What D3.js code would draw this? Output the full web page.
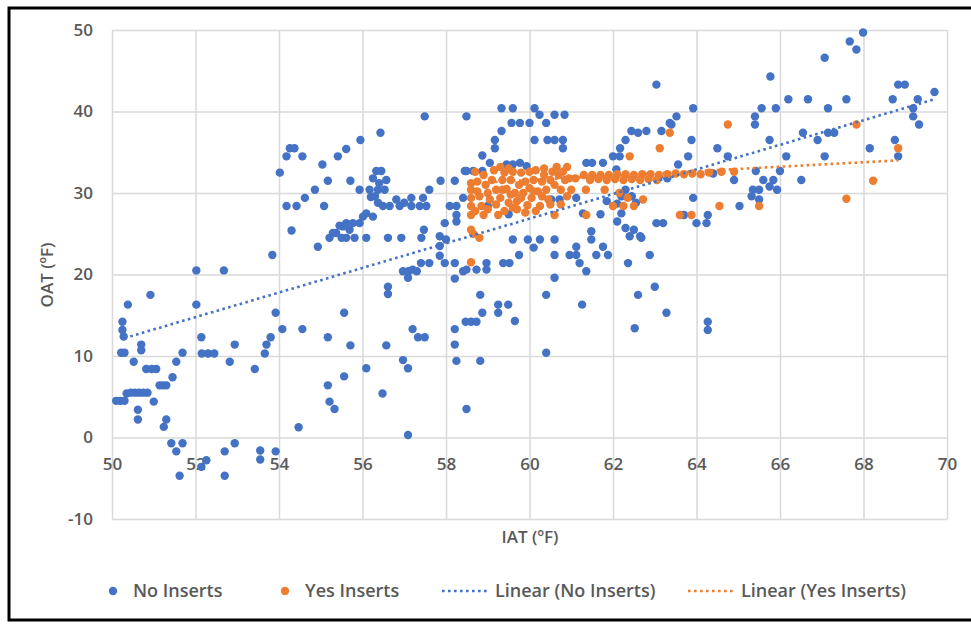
<!DOCTYPE html>
<html>
<head>
<meta charset="utf-8">
<script src="https://cdn.jsdelivr.net/npm/d3@7"></script>
<style>
  html, body { margin: 0; padding: 0; background: #fff; }
  svg text { font-family: 'Open Sans', 'Noto Sans', sans-serif; fill: #595959; }
</style>
</head>
<body>
<svg id="chart" width="971" height="624"></svg>
<script>
const xTicks = [50, 52, 54, 56, 58, 60, 62, 64, 66, 68, 70]
const yTicks = [-10, 0, 10, 20, 30, 40, 50]

// [IAT, OAT] pairs
const noInserts = [
  [50.1,4.5],[50.2,4.5],[50.3,4.5],[50.25,14.2],[50.25,13.2],[50.28,12.4],[50.38,16.3],[50.22,10.4],[50.3,10.4],
  [50.52,9.3],[50.35,5.4],[50.45,5.5],[50.55,5.5],[50.65,5.5],[50.75,5.5],[50.85,5.5],[50.62,3.4],[50.62,2.2],
  [50.7,11.4],[50.7,10.7],[50.82,8.4],[50.95,8.4],[51.06,8.4],[50.92,17.5],[51.0,4.4],[51.14,6.4],[51.22,6.4],
  [51.3,6.4],[51.45,7.4],[51.54,9.3],[51.69,10.4],[51.3,2.2],[51.24,1.3],[51.42,-0.7],[51.54,-1.7],[51.69,-0.7],
  [51.62,-4.7],
  [52.02,20.5],[52.02,16.3],[52.14,12.3],[52.15,10.3],[52.3,10.3],[52.45,10.3],[52.68,20.5],[52.82,9.3],[52.94,11.4],
  [52.26,-2.8],[52.14,-3.6],[52.7,-1.7],[52.94,-0.7],[52.7,-4.7],[53.42,8.4],[53.55,-1.6],[53.55,-2.7],[53.92,-1.7],
  [53.66,10.3],[53.7,11.4],[53.8,12.3],[53.92,15.3],[53.84,22.4],[54.08,13.3],
  [54.56,13.3],[54.47,1.25],[55.17,12.3],[55.17,6.4],[55.21,4.4],[55.33,3.5],[54.93,23.4],[55.56,15.3],[55.71,11.3],
  [55.56,7.5],[56.09,8.5],[56.48,5.4],
  [54.26,35.5],[54.37,35.5],[54.18,34.5],[54.56,34.5],[54.02,32.5],[55.04,33.5],[55.41,34.5],[55.61,35.4],[55.95,36.5],
  [56.43,37.4],[55.17,31.5],[55.71,31.5],[54.86,30.4],[54.62,29.4],[54.18,28.4],[54.42,28.4],[55.08,28.4],[54.3,25.4],
  [55.21,24.5],[55.37,25.1],[55.5,24.5],[55.53,25.9],[55.61,26.3],[55.69,25.5],[55.61,24.5],[55.77,26.3],[55.81,24.5],
  [55.93,26.3],[56.01,27.1],[56.09,24.5],[55.45,26.0],[55.29,25.1],
  [55.93,30.4],[56.17,30.4],[56.37,30.4],[56.53,30.4],[56.33,32.7],[56.45,32.7],[56.25,31.8],[56.57,31.6],[56.2,29.5],
  [56.37,28.8],[56.49,28.4],[56.65,28.4],[56.81,29.2],[56.89,28.4],[56.25,27.1],[56.09,27.5],[56.61,24.5],[56.93,24.5],
  [56.4,31.2],[56.3,29.6],
  [56.57,11.3],[56.61,18.5],[56.61,17.6],[57.2,13.3],[57.33,12.3],[57.49,12.3],[56.97,9.5],[57.09,8.5],[57.09,0.3],
  [56.97,20.4],[57.1,20.4],[57.2,20.6],[57.3,20.4],[57.09,19.6],[57.4,21.4],[57.6,21.4],[57.85,23.5],[57.85,22.3],
  [57.97,21.4],[57.17,29.4],[57.17,28.4],[57.37,28.4],[57.53,28.4],[57.6,30.4],[57.45,29.4],[57.87,31.5],[57.47,25.5],
  [57.41,24.5],[57.85,24.7],[57.49,39.4],[57.0,28.8],
  [58.21,31.5],[58.09,28.4],[58.25,28.4],[58.25,27.3],[58.25,26.5],[57.97,26.3],[58.0,24.3],[58.21,21.4],[58.21,19.5],
  [58.41,20.4],[58.49,39.4],[58.49,32.7],[58.41,29.4],[58.21,13.3],[58.21,11.4],[58.25,9.4],[58.47,14.2],[58.6,14.2],
  [58.73,14.2],[58.49,3.5],[58.82,9.4],[58.87,15.3],[58.82,17.5],[59.25,16.3],[59.25,15.3],[59.49,16.3],[59.65,14.3],
  [58.49,20.6],[58.73,20.6],[58.97,20.6],[58.97,21.4],[59.37,21.4],[59.52,21.4],[59.75,22.4],[59.6,24.3],[59.96,24.3],
  [60.1,23.3],[60.25,24.3],
  [59.33,40.4],[59.6,40.4],[59.57,38.6],[59.77,38.6],[60.0,38.6],[59.33,37.6],[59.17,36.5],[59.17,35.5],[58.87,34.6],
  [59.05,33.7],[58.45,32.7],[58.65,32.7],[58.87,32.7],[59.77,33.7],[59.93,33.3],[59.45,33.5],[59.6,33.5],
  [59.0,28.4],[59.5,27.4],[60.52,29.2],[60.72,29.2],[61.12,29.4],[61.28,27.5],
  [60.12,40.4],[60.24,39.6],[60.6,39.6],[60.84,39.6],[60.4,38.6],[60.12,36.5],[60.43,36.5],[60.6,36.5],[60.8,36.5],
  [60.8,35.5],[60.4,17.5],[60.6,19.6],[60.4,10.4],[61.26,16.3],[60.6,24.3],[60.6,22.4],[60.96,22.4],[61.12,22.4],
  [61.2,21.4],[61.36,20.4],[61.12,23.4],[61.48,25.3],[61.48,24.3],[61.6,22.4],[61.76,23.4],[61.88,22.4],[61.36,33.7],
  [61.5,33.7],[61.76,33.7],[61.7,27.4],[61.85,29.0],
  [62.17,35.5],[62.3,36.5],[62.44,37.6],[62.8,37.6],[63.16,37.6],[63.36,38.6],[62.6,37.4],[62.08,32.9],[62.0,34.5],
  [62.16,34.5],[62.36,21.4],[62.88,22.4],[62.52,13.4],[63.28,15.3],[62.6,17.5],[63.0,18.5],[62.4,24.7],[62.65,24.7],
  [62.68,24.5],[63.04,26.3],[63.2,26.3],[62.1,28.7],[62.2,29.6],[62.3,30.4],[62.45,29.6],[62.55,28.8],[62.1,26.5],
  [62.3,25.7],[62.5,25.5],[62.2,27.5],[63.04,43.3],[63.52,39.4],[63.4,38.4],[63.92,40.4],[63.88,36.5],[63.8,34.5],
  [63.56,33.5],[63.92,29.4],[63.7,27.3],[64.0,26.3],[64.24,26.3],[64.27,27.3],[64.27,14.2],[64.27,13.2],[63.1,32.0],
  [63.3,31.8],
  [64.5,35.5],[64.75,34.5],[65.03,28.4],[65.4,39.4],[65.4,38.4],[65.56,40.4],[65.9,40.4],[65.75,36.5],[66.15,34.5],
  [65.42,32.7],[65.6,31.6],[65.84,31.6],[66.0,32.7],[65.35,30.4],[65.5,30.4],[65.75,30.8],[65.93,30.4],[65.5,29.2],
  [65.32,29.6],[65.77,44.3],[64.4,32.4],[64.9,31.6],
  [66.2,41.5],[66.67,41.5],[67.15,40.4],[66.55,37.4],[66.9,36.5],[67.15,37.4],[67.3,37.4],[67.07,34.5],[66.51,31.6],
  [67.99,49.7],[67.67,48.6],[67.83,47.6],[67.07,46.6],[68.83,43.3],[68.99,43.3],[69.7,42.4],[68.7,41.5],[69.3,41.5],
  [69.19,40.4],[69.19,39.4],[69.33,38.4],[68.75,36.5],[68.83,34.5],[68.15,35.5],[67.59,41.5]
]

const yesInserts = [
  [58.6,31.2],[58.6,30.4],[58.6,29.4],[58.6,28.4],[58.6,27.3],[58.6,25.5],[58.65,25.0],[58.8,24.5],[58.6,21.5],
  [58.75,31.4],[58.75,30.2],[58.8,29.6],[58.85,28.4],[58.9,27.3],[58.95,31.0],[59.0,30.0],[59.05,29.2],[59.1,31.6],
  [59.2,30.4],[59.25,27.3],[59.3,29.4],[59.35,31.6],[59.4,32.5],[59.45,30.5],[59.5,28.8],[59.55,31.6],[59.6,32.6],
  [59.65,30.0],[59.7,29.0],[59.7,28.0],[59.75,31.0],[59.8,32.5],[59.85,30.0],[59.9,31.4],[59.95,28.5],[60.0,32.6],
  [60.0,30.6],[60.05,29.4],[60.1,31.6],[60.15,32.8],[60.2,30.2],[60.25,28.4],[60.3,31.4],[60.35,32.2],[60.4,30.4],
  [60.45,29.2],[60.5,31.6],[60.55,32.6],[60.6,31.0],[60.65,33.2],[60.6,27.3],[60.7,32.2],[60.8,32.6],[60.85,31.6],
  [60.9,33.2],[59.3,33.2],[59.5,33.0],
  [58.7,32.6],[58.7,27.8],[58.9,32.2],[59.0,28.0],[59.15,32.8],[59.2,28.6],[59.35,30.4],[59.4,27.8],[59.55,29.8],
  [59.6,28.2],[59.8,29.4],[59.9,27.6],[60.1,30.2],[60.15,27.8],[60.3,29.6],[60.35,33.0],[60.5,28.6],[60.75,30.4],
  [60.75,28.6],[60.9,29.6],[60.95,31.8],[61.1,31.8],
  [61.0,30.4],[61.35,30.4],[61.36,27.3],[61.3,32.2],[61.5,32.2],[61.7,32.2],[61.9,32.2],[62.1,32.3],[62.3,32.3],
  [62.5,32.2],[62.7,32.3],[62.9,32.3],[63.1,32.2],[63.3,32.3],[63.5,32.4],[63.7,32.3],[63.9,32.4],[64.1,32.3],
  [64.3,32.5],[64.6,32.6],[64.9,32.6],
  [61.45,31.6],[61.65,31.7],[61.85,31.6],[62.05,31.7],[62.25,31.6],[62.45,31.7],[62.65,31.6],[62.85,31.7],[63.05,31.6],
  [61.8,30.4],[62.15,30.0],[62.35,29.4],
  [62.0,28.4],[62.25,28.4],[62.5,28.4],[62.72,29.2],[62.4,34.5],[63.12,35.5],[63.36,37.4],[63.6,27.3],[63.88,27.3],
  [64.75,38.4],[64.55,28.4],[65.5,28.4],[67.83,38.4],[68.83,35.5],[68.23,31.5],[67.59,29.3]
]

// trendline end points as drawn
const noTrend = [[50.3, 12.2], [69.7, 41.5]]
const yesTrend = [[58.6, 31.2], [68.83, 34.0]]

const legendItems = [
  { label: 'No Inserts', color: '#4472C4', kind: 'dot', x: 113 },
  { label: 'Yes Inserts', color: '#ED7D31', kind: 'dot', x: 285 },
  { label: 'Linear (No Inserts)', color: '#4472C4', kind: 'line', x: 442 },
  { label: 'Linear (Yes Inserts)', color: '#ED7D31', kind: 'line', x: 688 },
]

const svg = d3.select('#chart')

const x = d3.scaleLinear().domain([50, 70]).range([112, 947])
const y = d3.scaleLinear().domain([-10, 50]).range([519, 30])

// frame
svg.append('rect')
  .attr('x', 9).attr('y', 8)
  .attr('width', 990).attr('height', 612)
  .attr('fill', 'none').attr('stroke', '#000').attr('stroke-width', 3)

// grid
svg.append('g')
  .attr('class', 'grid')
  .attr('transform', `translate(0,${y(-10)})`)
  .call(d3.axisBottom(x).tickValues(xTicks).tickSize(-(y(-10) - y(50))).tickFormat(''))
  .call((g) => g.select('.domain').remove())
svg.append('g')
  .attr('class', 'grid')
  .attr('transform', `translate(${x(50)},0)`)
  .call(d3.axisLeft(y).tickValues(yTicks).tickSize(-(x(70) - x(50))).tickFormat(''))
  .call((g) => g.select('.domain').remove())
svg.selectAll('.grid line').attr('stroke', '#d9d9d9').attr('stroke-width', 1.5)

// tick labels
svg.append('g')
  .attr('transform', `translate(0,${y(0)})`)
  .call(d3.axisBottom(x).tickValues(xTicks).tickSize(0).tickPadding(20).tickFormat((d) => String(d)))
  .call((g) => g.select('.domain').remove())
  .selectAll('text')
  .style('font-size', '17px').style('font-weight', 600)
svg.append('g')
  .attr('transform', `translate(${x(50) - 19},0)`)
  .call(d3.axisLeft(y).tickValues(yTicks).tickSize(0).tickPadding(0).tickFormat((d) => String(d)))
  .call((g) => g.select('.domain').remove())
  .selectAll('text')
  .style('font-size', '17px').style('font-weight', 600)
svg.selectAll('.tick text').attr('fill', '#595959')

// points
svg.append('g')
  .selectAll('circle')
  .data(noInserts)
  .join('circle')
  .attr('cx', (d) => x(d[0]))
  .attr('cy', (d) => y(d[1]))
  .attr('r', 4.2)
  .attr('fill', '#4472C4')

svg.append('g')
  .selectAll('circle')
  .data(yesInserts)
  .join('circle')
  .attr('cx', (d) => x(d[0]))
  .attr('cy', (d) => y(d[1]))
  .attr('r', 4.2)
  .attr('fill', '#ED7D31')

// trendlines
const line = d3.line().x((d) => x(d[0])).y((d) => y(d[1]))
svg.append('path').datum(noTrend).attr('d', line)
  .attr('stroke', '#4472C4').attr('stroke-width', 2.6).attr('stroke-dasharray', '2.6 3.4').attr('fill', 'none')
svg.append('path').datum(yesTrend).attr('d', line)
  .attr('stroke', '#ED7D31').attr('stroke-width', 2.6).attr('stroke-dasharray', '2.6 3.4').attr('fill', 'none')

// axis titles
svg.append('text')
  .attr('x', 530).attr('y', 543)
  .attr('text-anchor', 'middle')
  .style('font-size', '17px').style('font-weight', 600)
  .text('IAT (ºF)')
svg.append('text')
  .attr('transform', 'translate(53,275) rotate(-90)')
  .attr('text-anchor', 'middle')
  .style('font-size', '17px').style('font-weight', 600)
  .text('OAT (ºF)')

// legend
const legend = svg.append('g').attr('transform', 'translate(0,591)')
legendItems.forEach((item) => {
  if (item.kind === 'dot') {
    legend.append('circle').attr('cx', item.x).attr('cy', 0).attr('r', 4.2).attr('fill', item.color)
    legend.append('text').attr('x', item.x + 20).attr('y', 6)
      .style('font-size', '18px').style('font-weight', 600).text(item.label)
  } else {
    legend.append('line').attr('x1', item.x).attr('x2', item.x + 48).attr('y1', 0).attr('y2', 0)
      .attr('stroke', item.color).attr('stroke-width', 2.6).attr('stroke-dasharray', '2.6 3.4')
    legend.append('text').attr('x', item.x + 53).attr('y', 6)
      .style('font-size', '18px').style('font-weight', 600).text(item.label)
  }
})
</script>
</body>
</html>
